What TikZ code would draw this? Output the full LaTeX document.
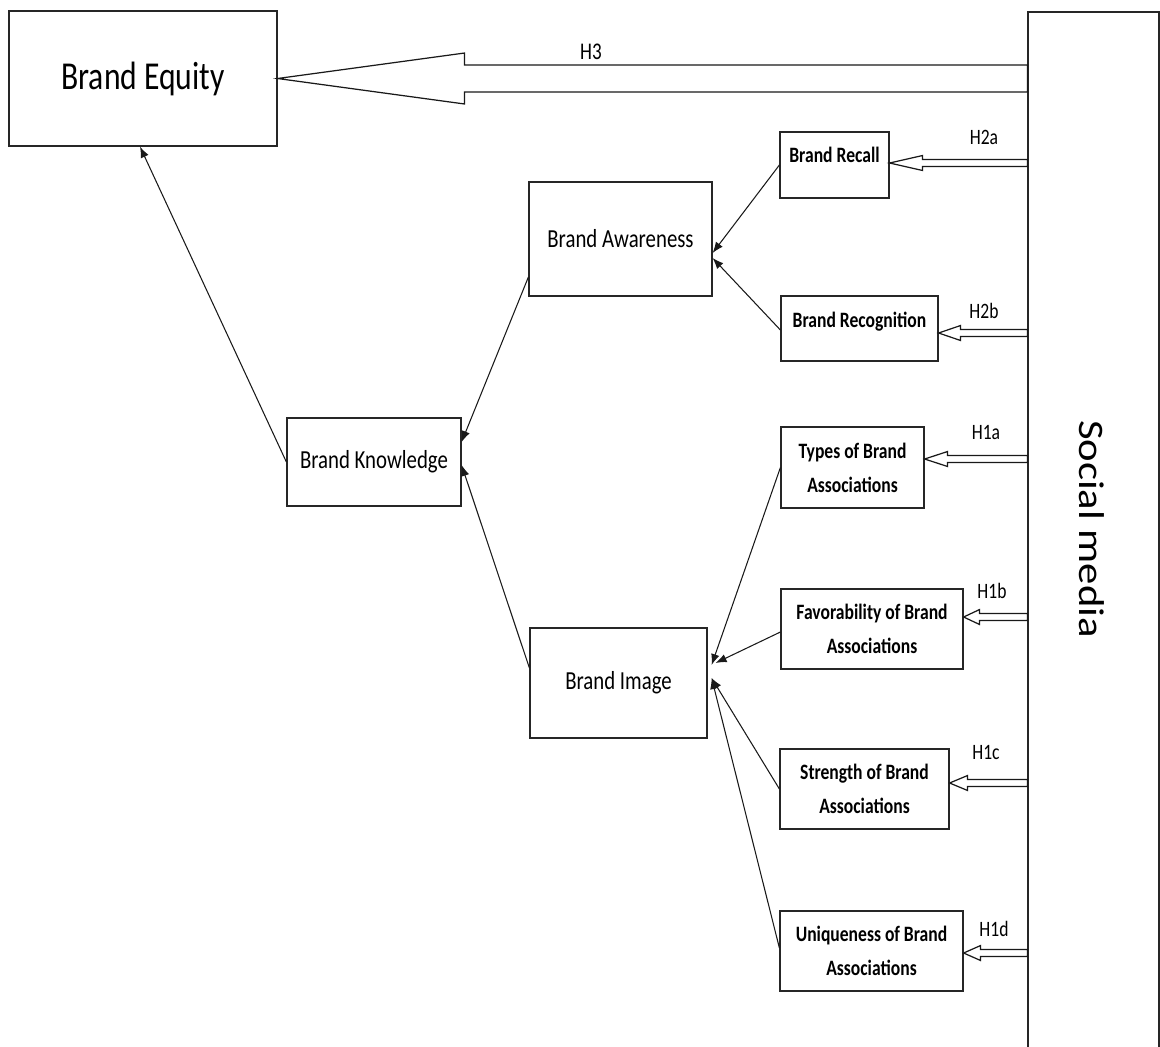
\documentclass[tikz,border=0pt]{standalone}
\usepackage{fontspec}
\setmainfont{Carlito}[FakeStretch=0.8]
\newfontfamily\sidefont{Carlito}
\usetikzlibrary{arrows.meta}
\usetikzlibrary{calc}
\tikzset{
    box/.style = {rectangle, draw=black!85, line width=0.7pt, align=center, inner sep=0pt, text centered},
    bigbox/.style = {box, font=\fontsize{22.5}{27}\selectfont},
    midbox/.style = {box, font=\fontsize{14.8}{18}\selectfont},
    smallbox/.style = {box, font=\fontsize{12.5}{19.4}\selectfont\bfseries},
    hlabel/.style = {inner sep=0pt, font=\fontsize{12.5}{15}\selectfont},
    sidetext/.style = {inner sep=0pt, rotate=-90, font=\sidefont\fontsize{24.3}{28}\selectfont},
    link/.style = {draw=black!90, line width=0.6pt, -{Latex[length=2.2mm, width=1.7mm]}},
    blockarrow/.style = {draw=black!90, line width=0.7pt, fill=white, line join=miter}
}
% hollow arrow: tip, head length, head half width, shaft half width, tail node
\newcommand{\hollowarrow}[5]{%
    \coordinate (hatip) at (#1);
    \coordinate (hatail) at (#5 |- hatip);
    \draw[blockarrow] (hatip) -- ++(#2,-#3) -- ++(0,#3-#4) -- ($(hatail)+(0,-#4)$)
        -- ++(0,2*#4) -- ($(hatip)+(#2,#4)$) -- ++(0,#3-#4) -- cycle;
}

\begin{document}
\begin{tikzpicture}[x=0.02cm, y=-0.02cm]
    \useasboundingbox (0,0) rectangle (1160,1046);

    % left part
    \node[bigbox, minimum width=5.36cm, minimum height=2.70cm] (equity) at (143,78.5) {Brand Equity};
    \node[midbox, minimum width=3.48cm, minimum height=1.76cm] (knowledge) at (374,462) {Brand Knowledge};
    \node[midbox, minimum width=3.66cm, minimum height=2.28cm] (awareness) at (620.5,239) {Brand Awareness};
    \node[midbox, minimum width=3.54cm, minimum height=2.20cm] (image) at (618.5,683) {Brand Image};

    % dimensions
    \node[smallbox, minimum width=2.18cm, minimum height=1.32cm, text depth=0.4cm] (recall) at (834.5,165) {Brand Recall};
    \node[smallbox, minimum width=3.14cm, minimum height=1.30cm, text depth=0.36cm] (recognition) at (859.5,328.5) {Brand Recognition};
    \node[smallbox, minimum width=2.86cm, minimum height=1.62cm] (types) at (852.5,467.5) {Types of Brand\\Associations};
    \node[smallbox, minimum width=3.64cm, minimum height=1.60cm] (favor) at (872,629) {Favorability of Brand\\Associations};
    \node[smallbox, minimum width=3.38cm, minimum height=1.60cm] (strength) at (864.5,789) {Strength of Brand\\Associations};
    \node[smallbox, minimum width=3.66cm, minimum height=1.60cm] (unique) at (871.5,951) {Uniqueness of Brand\\Associations};

    % social media
    \node[box, minimum width=2.62cm, minimum height=20.80cm] (social) at (1093.5,532) {};
    \node[sidetext] (socialtext) at (1092,529) {\scalebox{1}[0.84]{Social media}};

    % links
    \draw[link] (recall.west) -- ($(awareness.east)+(0,14)$);
    \draw[link] ($(recognition.west)+(0,1.5)$) -- ($(awareness.east)+(0,19)$);
    \draw[link] ($(awareness.west)+(0,38)$) -- ($(knowledge.east)+(0,-20)$);
    \draw[link] ($(image.west)+(0,-15)$) -- ($(knowledge.east)+(0,3)$);
    \draw[link] (knowledge.west) -- ($(equity.south)+(-3,0)$);
    \draw[link] (types.west) -- ($(image.east)+(4,-18)$);
    \draw[link] ($(favor.west)+(0,3)$) -- ($(image.east)+(8,-20)$);
    \draw[link] (strength.west) -- ($(image.east)+(4,-5)$);
    \draw[link] ($(unique.west)+(0,-3)$) -- ($(image.east)+(4,-5)$);

    % hypotheses
    \hollowarrow{equity.east}{187}{25.5}{13.5}{social.west}
    \hollowarrow{$(recall.east)+(0,-2)$}{33}{7.5}{3.5}{social.west}
    \hollowarrow{$(recognition.east)+(0,4.5)$}{22}{7.5}{3.5}{social.west}
    \hollowarrow{$(types.east)+(0,-8.5)$}{23}{7.5}{3.5}{social.west}
    \hollowarrow{$(favor.east)+(0,-12)$}{16}{7.5}{3.5}{social.west}
    \hollowarrow{$(strength.east)+(0,-6)$}{18}{7.5}{3.5}{social.west}
    \hollowarrow{$(unique.east)+(0,2)$}{17}{7.5}{3.5}{social.west}

    \node[hlabel, font=\fontsize{13.6}{16}\selectfont] (h3) at (591,52) {H3};
    \node[hlabel] (h2a) at (984,137) {H2a};
    \node[hlabel] (h2b) at (984,311) {H2b};
    \node[hlabel] (h1a) at (986,433) {H1a};
    \node[hlabel] (h1b) at (992,591) {H1b};
    \node[hlabel] (h1c) at (986,752) {H1c};
    \node[hlabel] (h1d) at (994,929) {H1d};
\end{tikzpicture}
\end{document}
